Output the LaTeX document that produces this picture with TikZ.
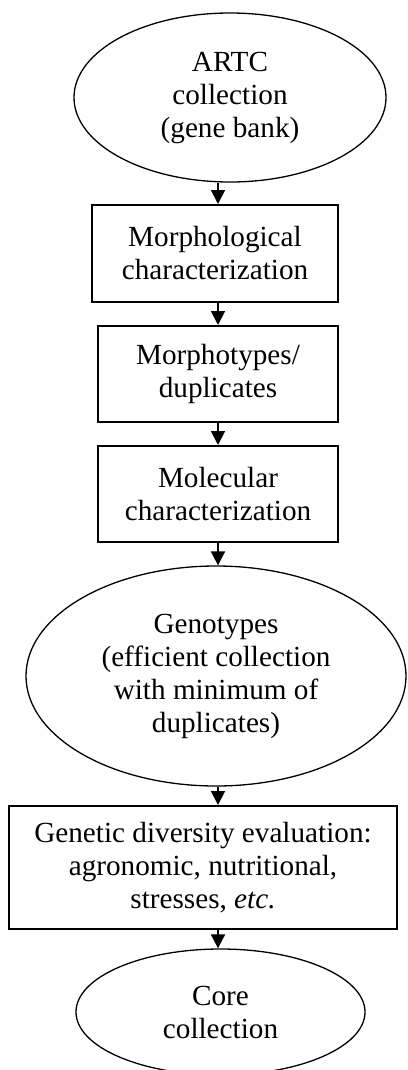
\documentclass[tikz,border=0pt]{standalone}
\usepackage{fontspec}
\setmainfont{Liberation Serif}
\usetikzlibrary{shapes.geometric,arrows.meta}
\begin{document}
\begin{tikzpicture}[x=1bp,y=-1bp,
  txt/.style={align=center,inner sep=0pt,font=\fontsize{29.2bp}{33bp}\selectfont},
  oval/.style={txt,ellipse,draw,line width=1.3bp},
  stepbox/.style={txt,rectangle,draw,line width=2bp},
  arr/.style={line width=1.8bp,-{Triangle[length=14bp,width=14bp]}}]
  \useasboundingbox (0,0) rectangle (407,1070);
  % flow-chart stages, top to bottom
  \node[oval,minimum width=312bp,minimum height=169bp] (e1) at (230,97.5)
    {ARTC\\collection\\(gene bank)};
  \node[stepbox,minimum width=246bp,minimum height=97bp] (b1) at (215,253.5)
    {Morphological\\characterization};
  \node[stepbox,minimum width=240bp,minimum height=96bp] (b2) at (218,374)
    {Morphotypes/\\duplicates};
  \node[stepbox,minimum width=240bp,minimum height=96bp] (b3) at (218,494)
    {Molecular\\characterization};
  \node[oval,minimum width=380bp,minimum height=220bp] (e2) at (216,676)
    {Genotypes\\(efficient collection\\with minimum of\\duplicates)};
  \node[stepbox,minimum width=388bp,minimum height=123bp] (b4) at (203,867.5)
    {Genetic diversity evaluation:\\agronomic, nutritional,\\stresses, \textit{etc.}};
  \node[oval,minimum width=289bp,minimum height=126bp] (e3) at (220.5,1012)
    {Core\\collection};
  % all connectors run down one vertical line
  \coordinate (ax) at (218,0);
  \draw[arr] (e1.south -| ax) -- (b1.north -| ax);
  \draw[arr] (b1.south -| ax) -- (b2.north -| ax);
  \draw[arr] (b2.south -| ax) -- (b3.north -| ax);
  \draw[arr] (b3.south -| ax) -- (e2.north -| ax);
  \draw[arr] (e2.south -| ax) -- (b4.north -| ax);
  \draw[arr] (b4.south -| ax) -- (e3.north -| ax);
\end{tikzpicture}
\end{document}
